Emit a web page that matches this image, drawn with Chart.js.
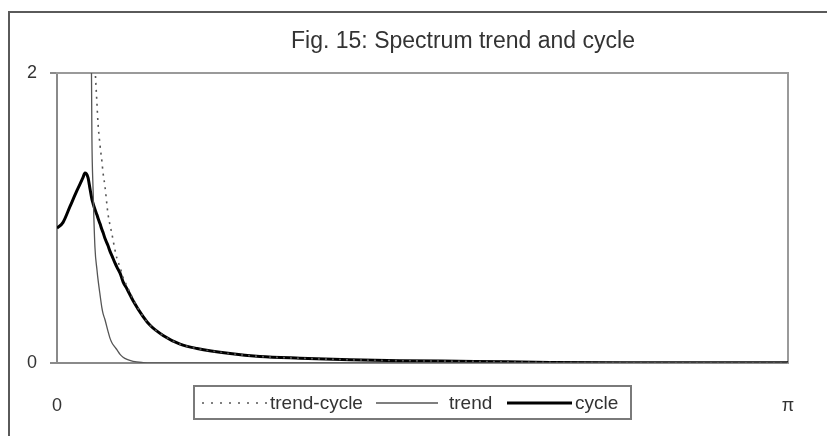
<!DOCTYPE html>
<html>
<head>
<meta charset="utf-8">
<script src="https://cdn.jsdelivr.net/npm/chart.js@4.4.1/dist/chart.umd.min.js"></script>
<style>
  html, body { margin: 0; padding: 0; background: #fff; }
  body { width: 827px; height: 436px; position: relative; overflow: hidden; font-family: "Liberation Sans", Arial, sans-serif; }
  .frame { position: absolute; left: 8px; top: 11px; width: 900px; height: 500px; border-top: 2px solid #5a5a5a; border-left: 2px solid #5a5a5a; }
  #chart { position: absolute; left: 0; top: 0; }
  .title { position: absolute; left: 463px; top: 29px; transform: translateX(-50%); font-size: 23px; line-height: 23px; color: #333; white-space: nowrap; }
  .legend { position: absolute; left: 193px; top: 385px; width: 439px; height: 35px; box-sizing: border-box; border: 2px solid #7a7a7a; }
  .legend span { position: absolute; top: 0; height: 31px; line-height: 31px; font-size: 19px; color: #333; white-space: nowrap; }
  .legend svg { position: absolute; top: 13px; }
</style>
</head>
<body>
<div class="frame"></div>
<canvas id="chart" width="827" height="436"></canvas>
<div class="title">Fig. 15: Spectrum trend and cycle</div>
<div class="legend">
  <svg style="left:7px" width="66" height="6"><line x1="0" y1="3" x2="66" y2="3" stroke="#555" stroke-width="1.6" stroke-dasharray="2 7"/></svg>
  <span style="left:75px">trend-cycle</span>
  <svg style="left:181px" width="62" height="6"><line x1="0" y1="3" x2="62" y2="3" stroke="#555" stroke-width="1.3"/></svg>
  <span style="left:254px">trend</span>
  <svg style="left:312px" width="65" height="6"><line x1="0" y1="3" x2="65" y2="3" stroke="#000" stroke-width="3"/></svg>
  <span style="left:380px">cycle</span>
</div>
<script>
// frequency (radians, 0..pi)
const freq = [0, 0.026, 0.056, 0.086, 0.112, 0.120, 0.133, 0.142, 0.150, 0.155,
  0.163, 0.172, 0.176, 0.185, 0.193, 0.198, 0.206, 0.219, 0.228, 0.236,
  0.249, 0.258, 0.271, 0.284, 0.301, 0.327, 0.370, 0.400, 0.456, 0.529,
  0.602, 0.744, 0.872, 1.044, 1.259, 1.474, 1.796, 2.119, 2.549, 3.142];

const trendCycle = [400, 150, 40, 15, 8, 6.8, 5.5, 4.7, 2.7, 2.3,
  2.05, 1.78, 1.66, 1.50, 1.39, 1.31, 1.22, 1.03, 0.95, 0.89,
  0.78, 0.72, 0.66, 0.59, 0.53, 0.44, 0.32, 0.26, 0.19, 0.13,
  0.10, 0.065, 0.045, 0.033, 0.022, 0.016, 0.011, 0.004, 0.002, 0.001];

const trend = [400, 150, 40, 14, 7, 5.5, 4.2, 3.5, 1.56, 1.2,
  0.80, 0.64, 0.58, 0.47, 0.38, 0.34, 0.30, 0.22, 0.17, 0.14,
  0.11, 0.09, 0.06, 0.04, 0.025, 0.012, 0.003, 0, 0, 0,
  0, 0, 0, 0, 0, 0, 0, 0, 0, 0];

const cycle = [0.93, 0.97, 1.08, 1.19, 1.28, 1.31, 1.28, 1.20, 1.13, 1.10,
  1.06, 1.02, 1.00, 0.96, 0.92, 0.90, 0.86, 0.81, 0.77, 0.74,
  0.69, 0.66, 0.62, 0.56, 0.51, 0.43, 0.32, 0.26, 0.19, 0.13,
  0.10, 0.065, 0.045, 0.033, 0.022, 0.016, 0.011, 0.004, 0.002, 0.001];

const yTicks = [0, 2];

const pts = vals => freq.map((f, i) => ({ x: f, y: vals[i] }));

new Chart(document.getElementById('chart'), {
  type: 'line',
  data: {
    datasets: [
      { label: 'trend-cycle', data: pts(trendCycle), borderColor: '#555', borderWidth: 1.6, borderDash: [2, 5] },
      { label: 'trend', data: pts(trend), borderColor: '#555', borderWidth: 1.3 },
      { label: 'cycle', data: pts(cycle), borderColor: '#000', borderWidth: 3 }
    ]
  },
  options: {
    responsive: false,
    animation: false,
    layout: { padding: { left: 0, top: 73, right: 39, bottom: 0 } },
    elements: { point: { radius: 0 }, line: { cubicInterpolationMode: 'monotone', fill: false } },
    plugins: { legend: { display: false }, tooltip: { enabled: false }, title: { display: false } },
    scales: {
      x: {
        type: 'linear', min: 0, max: Math.PI, z: 1,
        afterBuildTicks: s => { s.ticks = [{ value: 0 }, { value: Math.PI }]; },
        afterFit: s => { s.height = 73; },
        ticks: {
          padding: 32, maxRotation: 0, color: '#333',
          font: { family: 'Liberation Sans', size: 18 },
          callback: v => (v === 0 ? '0' : '\u03C0')
        },
        grid: { drawOnChartArea: false, drawTicks: false },
        border: { color: '#8a8a8a', width: 2 }
      },
      y: {
        min: 0, max: 2, z: 1,
        afterBuildTicks: s => { s.ticks = yTicks.map(v => ({ value: v })); },
        afterFit: s => { s.width = 57; },
        ticks: { padding: 13, color: '#333', font: { family: 'Liberation Sans', size: 18 } },
        grid: { drawOnChartArea: false, drawTicks: true, tickLength: 7, color: '#8a8a8a', lineWidth: 2 },
        border: { color: '#8a8a8a', width: 2 }
      },
      x2: {
        type: 'linear', position: 'top', min: 0, max: Math.PI,
        afterFit: s => { s.height = 0; },
        ticks: { display: false },
        grid: { drawOnChartArea: false, drawTicks: false },
        border: { color: '#9a9a9a', width: 2 }
      },
      y2: {
        position: 'right', min: 0, max: 2,
        afterFit: s => { s.width = 0; },
        ticks: { display: false },
        grid: { drawOnChartArea: false, drawTicks: false },
        border: { color: '#9a9a9a', width: 2 }
      }
    }
  }
});
</script>
</body>
</html>
